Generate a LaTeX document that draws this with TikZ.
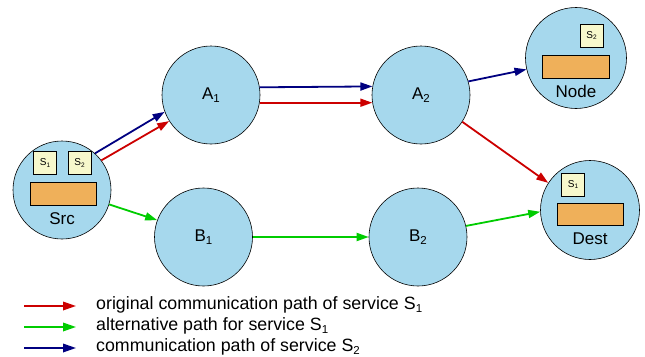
\documentclass[tikz,border=0pt]{standalone}
\usepackage{fontspec}
\setmainfont{Liberation Sans}
\usetikzlibrary{arrows.meta}
\definecolor{cfill}{RGB}{166,216,237}
\definecolor{ofill}{RGB}{239,176,90}
\definecolor{yfill}{RGB}{247,248,204}
\definecolor{cred}{RGB}{204,0,0}
\definecolor{cgreen}{RGB}{0,204,0}
\definecolor{cblue}{RGB}{0,0,128}
\newcommand\mysub[1]{\raisebox{-0.35ex}{\fontsize{11.5}{11.5}\selectfont #1}}
\newcommand\smsub[1]{\raisebox{-0.3ex}{\fontsize{6.5}{6.5}\selectfont #1}}
\tikzset{
  host/.style={circle, draw=black, line width=0.6pt, fill=cfill, minimum size=98pt, inner sep=0pt},
  lbl/.style={font=\fontsize{17}{17}\selectfont, inner sep=0pt},
  svc/.style={draw=black, line width=0.5pt, fill=yfill, minimum width=23pt, minimum height=23pt, inner sep=0pt, font=\fontsize{10}{10}\selectfont},
  buf/.style={draw=black, line width=0.5pt, fill=ofill},
  conn/.style={line width=1.8pt, -{Triangle[length=12pt,width=8pt]}},
  legarr/.style={line width=1.8pt, -{Triangle[length=13pt,width=8.5pt]}},
  legtxt/.style={font=\fontsize{17.8}{17.8}\selectfont, anchor=west, inner sep=0pt},
}
\begin{document}
\begin{tikzpicture}[x=1pt,y=-1pt]
\useasboundingbox (0,0) rectangle (645,356);
% hosts
\node[host] (src) at (62,190) {};
\node[host] (a1) at (211,95) {};
\node[host] (a2) at (421,95) {};
\node[host] (b1) at (203.5,237) {};
\node[host] (b2) at (418,237) {};
\node[host, minimum size=101pt] (nd) at (576,58) {};
\node[host, minimum size=99pt] (dst) at (590,210) {};
% labels
\node[lbl] (la1) at (a1) {A\mysub{1}};
\node[lbl] (la2) at (a2) {A\mysub{2}};
\node[lbl] (lb1) at (b1) {B\mysub{1}};
\node[lbl] (lb2) at (b2) {B\mysub{2}};
\node[lbl] (lsrc) at (62,219) {Src};
\node[lbl] (lnd) at (576,91) {Node};
\node[lbl] (ldst) at (590,239) {Dest};
% src internals
\node[svc] (s1a) at (45,163) {S\smsub{1}};
\node[svc] (s2a) at (79.5,163) {S\smsub{2}};
\draw[buf] (30,182) rectangle (96,205);
% node internals
\node[svc] (s2b) at (591.5,35.5) {S\smsub{2}};
\draw[buf] (542,55) rectangle (609,78);
% dest internals
\node[svc] (s1c) at (573,184.5) {S\smsub{1}};
\draw[buf] (557,203) rectangle (623,225);
% connectors
\draw[conn, cblue] (src.48) -- (a1.200);
\draw[conn, cred] (src.37) -- (a1.212);
\draw[conn, cblue] (a1.9.5) -- (a2.170.5);
\draw[conn, cred] (a1.-9.5) -- (a2.189.5);
\draw[conn, cblue] (a2.16) -- (nd.193);
\draw[conn, cred] (a2.-33) -- (dst.147);
\draw[conn, cgreen] (src.-17) -- (b1.160);
\draw[conn, cgreen] (b1.east) -- (b2.west);
\draw[conn, cgreen] (b2.13) -- (dst.182);
% legend
\coordinate (r0) at (24,306); \coordinate (r1) at (76,306);
\coordinate (g0) at (24,327); \coordinate (g1) at (76,327);
\coordinate (k0) at (24,348); \coordinate (k1) at (76,348);
\draw[legarr, cred] (r0) -- (r1);
\draw[legarr, cgreen] (g0) -- (g1);
\draw[legarr, cblue] (k0) -- (k1);
\node[legtxt] (t1) at (96,305) {original communication path of service S\mysub{1}};
\node[legtxt] (t2) at (96,326) {alternative path for service S\mysub{1}};
\node[legtxt] (t3) at (96,347) {communication path of service S\mysub{2}};
\end{tikzpicture}
\end{document}
